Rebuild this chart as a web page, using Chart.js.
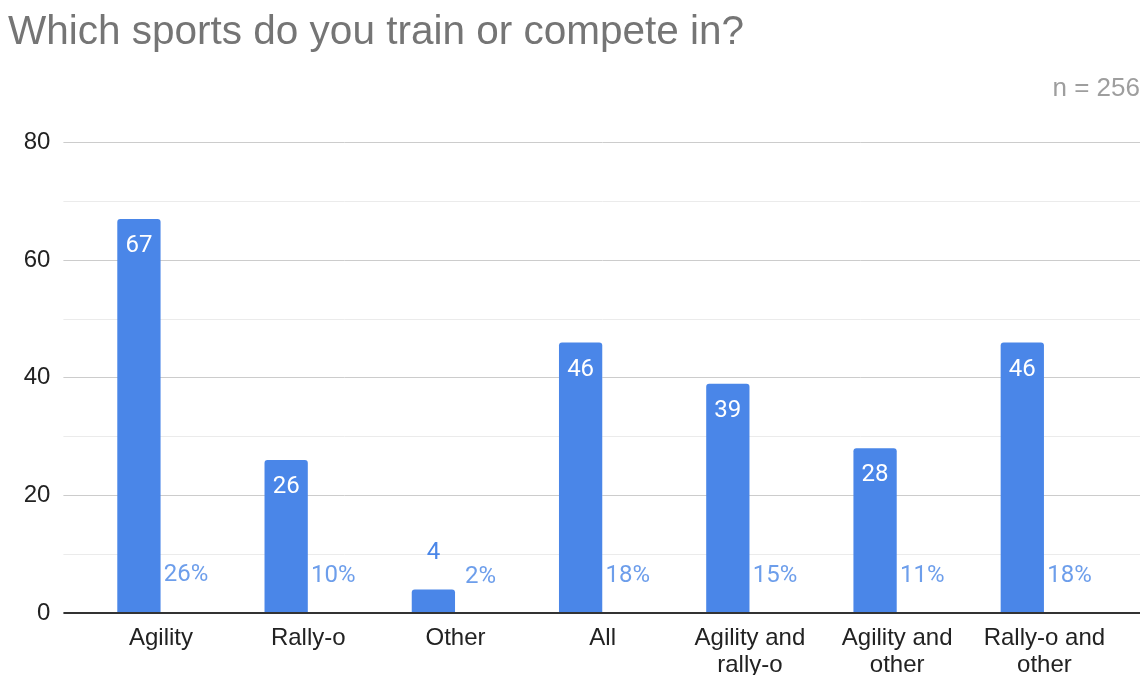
<!DOCTYPE html>
<html>
<head>
<meta charset="utf-8">
<title>Which sports do you train or compete in?</title>
<script src="https://cdn.jsdelivr.net/npm/chart.js@4/dist/chart.umd.min.js"></script>
<style>
  html, body { margin: 0; padding: 0; background: #ffffff; }
  #wrap { width: 1145px; height: 675px; position: relative; }
</style>
</head>
<body>
<div id="wrap"><canvas id="chart"></canvas></div>
<script>
// Survey answers: number of respondents per sport combination
const categories = [
  'Agility',
  'Rally-o',
  'Other',
  'All',
  ['Agility and', 'rally-o'],
  ['Agility and', 'other'],
  ['Rally-o and', 'other']
];
const counts = [67, 26, 4, 46, 39, 28, 46];
// Share of all respondents, as fractions
const shares = [0.26, 0.10, 0.02, 0.18, 0.15, 0.11, 0.18];
const yTicks = [0, 20, 40, 60, 80];
const sampleNote = 'n = 256';

const BAR_BLUE = '#4a86e8';
const PCT_BLUE = '#6d9eeb';
const AXIS_FONT = 'Arial, "Liberation Sans", sans-serif';
const LABEL_FONT = 'Roboto, "Liberation Sans", sans-serif';

function gridColor(v) {
  if (v === 0) return '#333333';
  return v % 20 === 0 ? '#cccccc' : '#ebebeb';
}
function gridWidth(v) { return v === 0 ? 2 : 1; }

// Same pixel snapping the built-in grid uses
function snap(pixel, width) {
  const half = width / 2;
  return Math.round(pixel - half) + half;
}

// Gridlines continue a little past the right edge of the plot area
const gridExtension = {
  id: 'gridExtension',
  beforeDatasetsDraw(chart) {
    const { ctx, chartArea, scales } = chart;
    const y = scales.y;
    ctx.save();
    y.ticks.forEach(t => {
      const w = gridWidth(t.value);
      const py = snap(y.getPixelForValue(t.value), w);
      ctx.strokeStyle = gridColor(t.value);
      ctx.lineWidth = w;
      ctx.beginPath();
      ctx.moveTo(chartArea.right, py);
      ctx.lineTo(chartArea.right + 22, py);
      ctx.stroke();
    });
    ctx.restore();
  }
};

// Value and percentage annotations on the bars, plus the sample size note
const annotations = {
  id: 'annotations',
  afterDatasetsDraw(chart) {
    const { ctx } = chart;
    ctx.save();
    ctx.font = '24px ' + LABEL_FONT;
    ctx.textAlign = 'center';
    ctx.textBaseline = 'middle';

    chart.getDatasetMeta(0).data.forEach((bar, i) => {
      const h = bar.base - bar.y;
      if (h > 45) {
        ctx.fillStyle = '#ffffff';
        ctx.fillText(String(counts[i]), bar.x, bar.y + 27);
      } else {
        ctx.fillStyle = BAR_BLUE;
        ctx.fillText(String(counts[i]), bar.x, bar.y - 36);
      }
    });

    chart.getDatasetMeta(1).data.forEach((bar, i) => {
      ctx.fillStyle = PCT_BLUE;
      ctx.fillText(Math.round(shares[i] * 100) + '%', bar.x + 3, bar.y - 36);
    });

    ctx.font = '26px ' + AXIS_FONT;
    ctx.fillStyle = '#9e9e9e';
    ctx.textAlign = 'right';
    ctx.fillText(sampleNote, 1140, 89);
    ctx.restore();
  }
};

new Chart(document.getElementById('chart'), {
  type: 'bar',
  data: {
    labels: categories,
    datasets: [
      {
        label: 'Respondents',
        data: counts,
        backgroundColor: BAR_BLUE,
        borderRadius: { topLeft: 3, topRight: 3 },
        borderSkipped: 'bottom',
        barPercentage: 0.98,
        categoryPercentage: 0.6
      },
      {
        label: 'Share',
        data: shares,
        backgroundColor: 'rgba(0,0,0,0)',
        barPercentage: 0.98,
        categoryPercentage: 0.6
      }
    ]
  },
  options: {
    responsive: true,
    maintainAspectRatio: false,
    animation: false,
    layout: { padding: { left: 8, right: 27, top: 0, bottom: 0 } },
    plugins: {
      legend: { display: false },
      tooltip: { enabled: false },
      title: {
        display: true,
        text: 'Which sports do you train or compete in?',
        align: 'start',
        color: '#757575',
        font: { family: AXIS_FONT, size: 40.5, weight: 'normal', lineHeight: 1.2 },
        padding: { top: 9, bottom: 85 }
      }
    },
    scales: {
      x: {
        grid: { display: false },
        border: { display: false },
        ticks: {
          color: '#222222',
          padding: 4,
          maxRotation: 0,
          autoSkip: false,
          font: { family: AXIS_FONT, size: 24, lineHeight: 1.13 }
        },
        afterFit(scale) { scale.height = 62; }
      },
      y: {
        min: 0,
        max: 80,
        border: { display: false },
        grid: {
          color: ctx => gridColor(ctx.tick.value),
          lineWidth: ctx => gridWidth(ctx.tick.value),
          drawTicks: true,
          tickLength: 24
        },
        ticks: {
          stepSize: 10,
          padding: 13,
          color: '#222222',
          font: { family: AXIS_FONT, size: 24 },
          callback: v => (yTicks.includes(v) ? String(v) : '')
        },
        afterFit(scale) { scale.width = 79.4; }
      }
    }
  },
  plugins: [gridExtension, annotations]
});
</script>
</body>
</html>
